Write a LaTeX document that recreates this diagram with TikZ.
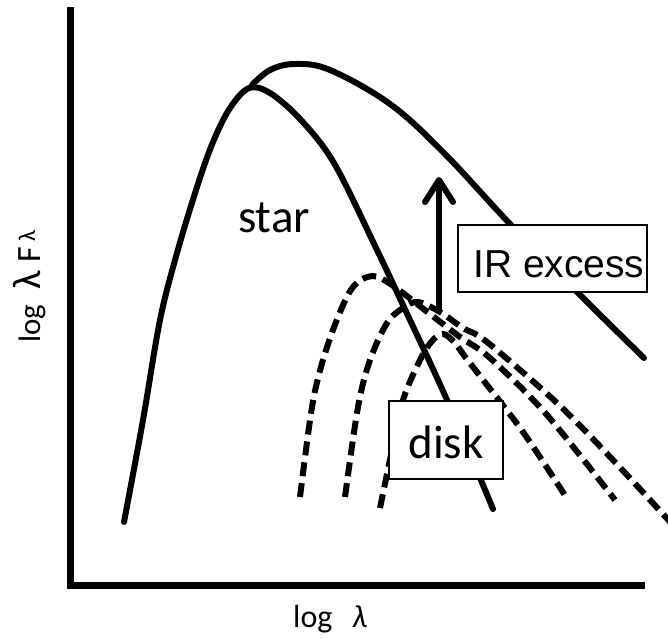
\documentclass[tikz,border=0pt]{standalone}
\usepackage{fontspec}
\setmainfont{Carlito}
\newfontfamily\irfont{Liberation Sans}
\usetikzlibrary{arrows.meta}
\newcommand{\fs}[1]{\fontsize{#1}{#1}\selectfont}
\begin{document}
\begin{tikzpicture}[x=1pt,y=-1pt,
  axis/.style={line width=7pt, line join=miter},
  sed/.style={line width=6pt, line cap=round},
  diskcurve/.style={line width=6pt, dash pattern=on 14pt off 7pt},
  labelbox/.style={draw, line width=1.8pt, fill=white, inner sep=0pt},
  bigtext/.style={font=\fs{47}},
  axtext/.style={font=\fs{32}}]
\useasboundingbox (0,0) rectangle (668,638);
% axes
\coordinate (ytop) at (70,7);
\coordinate (origin) at (70,585);
\coordinate (xend) at (645,585);
\draw[axis] (ytop) -- (origin) -- (xend);
% star curve
\draw[sed] plot[smooth, tension=0.55] coordinates {(124,522) (143,420) (160,320) (177,253) (197,187) (213,142) (230,108) (249,88) (270,93) (300,119) (334,163) (377,250) (410,320) (447,400) (493,509)};
% total curve
\draw[sed] plot[smooth, tension=0.6] coordinates {(252,85) (270,70) (295,64) (330,70) (390,104) (444,153) (511,225) (577,292) (644,358)};
% disk curves
\draw[diskcurve] plot[smooth, tension=0.55] coordinates {(300,497) (312,407) (323,360) (338,317) (353,287) (372,276) (392,285) (430,314) (460,337) (490,358) (547,415) (615,500)};
\draw[diskcurve] plot[smooth, tension=0.55] coordinates {(345,497) (358,407) (370,360) (387,323) (403,308) (418,302) (440,312) (463,328) (487,342) (557,403) (613,460) (672,524)};
\draw[diskcurve] plot[smooth, tension=0.55] coordinates {(380,508) (392,450) (403,400) (420,360) (432,341) (443,334) (454,342) (466,358) (480,376) (523,432) (568,500)};
% boxes
\node[labelbox, minimum width=189pt, minimum height=67pt] (irbox) at (552.5,258.5) {};
\node[anchor=base west, inner sep=0pt, font=\irfont\fs{39}] (irtext) at (473,277) {IR excess};
\node[labelbox, minimum width=114pt, minimum height=78pt] (diskbox) at (446,440) {};
\node[anchor=base, inner sep=0pt, bigtext] (disktext) at (446,458) {disk};
\node[anchor=base, inner sep=0pt, bigtext] (star) at (274,232) {star};
% arrow
\coordinate (arrbase) at (439,310);
\coordinate (arrtip) at (439,177);
\draw[line width=6pt, line cap=round, -{Straight Barb[length=22pt, width=28pt, line width=6pt, round]}] (arrbase) -- (arrtip);
% axis labels
\node[anchor=base west, inner sep=0pt, axtext] (xlabel) at (293,627) {log\hspace{20pt}\textit{λ}};
\node[anchor=base west, inner sep=0pt, rotate=90] (ylabel) at (40,343) {\fs{31}log\hspace{15pt}\fs{40}λ\hspace{9pt}\fs{34}F\hspace{5pt}\raisebox{5pt}{\fs{24}λ}};
\end{tikzpicture}
\end{document}
